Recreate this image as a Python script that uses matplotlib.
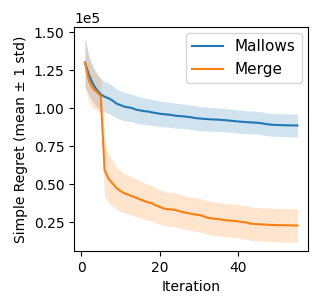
import numpy as np
import matplotlib
matplotlib.use("Agg")
import matplotlib.pyplot as plt

iterations = list(range(1, 56))

mallows_mean = [1.30, 1.22, 1.16, 1.12, 1.09, 1.075, 1.065, 1.05, 1.03, 1.02,
                1.01, 1.005, 1.0, 0.99, 0.985, 0.98, 0.978, 0.972, 0.968, 0.963,
                0.96, 0.958, 0.955, 0.95, 0.948, 0.946, 0.943, 0.94, 0.935, 0.932,
                0.93, 0.928, 0.926, 0.925, 0.924, 0.922, 0.92, 0.917, 0.915, 0.912,
                0.91, 0.908, 0.906, 0.905, 0.903, 0.90, 0.895, 0.892, 0.89, 0.889,
                0.888, 0.887, 0.887, 0.886, 0.886]
mallows_std = [0.16, 0.13, 0.12, 0.11, 0.105, 0.10, 0.10, 0.097, 0.095, 0.095,
               0.093, 0.092, 0.09, 0.09, 0.088, 0.087, 0.086, 0.085, 0.085, 0.084,
               0.083, 0.083, 0.082, 0.082, 0.081, 0.081, 0.08, 0.08, 0.08, 0.079,
               0.079, 0.078, 0.078, 0.078, 0.077, 0.077, 0.077, 0.076, 0.076, 0.076,
               0.076, 0.075, 0.075, 0.075, 0.075, 0.075, 0.075, 0.075, 0.075, 0.075,
               0.075, 0.075, 0.075, 0.075, 0.075]

merge_mean = [1.30, 1.18, 1.13, 1.105, 1.08, 0.59, 0.535, 0.505, 0.474, 0.455,
              0.44, 0.43, 0.42, 0.41, 0.40, 0.39, 0.38, 0.375, 0.36, 0.35,
              0.34, 0.335, 0.333, 0.33, 0.322, 0.315, 0.31, 0.305, 0.30, 0.297,
              0.29, 0.28, 0.275, 0.272, 0.27, 0.265, 0.262, 0.26, 0.258, 0.255,
              0.25, 0.248, 0.24, 0.238, 0.236, 0.235, 0.233, 0.232, 0.231, 0.23,
              0.23, 0.229, 0.229, 0.228, 0.228]
merge_std = [0.16, 0.14, 0.13, 0.12, 0.11, 0.17, 0.16, 0.15, 0.14, 0.135,
             0.13, 0.128, 0.126, 0.124, 0.122, 0.12, 0.118, 0.116, 0.115, 0.114,
             0.113, 0.112, 0.112, 0.111, 0.111, 0.11, 0.11, 0.11, 0.11, 0.11,
             0.11, 0.11, 0.11, 0.11, 0.11, 0.11, 0.11, 0.11, 0.11, 0.11,
             0.11, 0.11, 0.11, 0.11, 0.11, 0.11, 0.11, 0.11, 0.11, 0.11,
             0.11, 0.11, 0.11, 0.11, 0.11]

scale = 1e5
x = np.array(iterations)
mm = np.array(mallows_mean) * scale
ms = np.array(mallows_std) * scale
gm = np.array(merge_mean) * scale
gs = np.array(merge_std) * scale

fig = plt.figure(figsize=(3.19, 3.08), dpi=100)
ax = fig.add_axes([0.233, 0.185, 0.7325, 0.727])

ax.plot(x, mm, color="tab:blue", label="Mallows", lw=1.5)
ax.fill_between(x, mm - ms, mm + ms, color="tab:blue", alpha=0.2, lw=0)
ax.plot(x, gm, color="tab:orange", label="Merge", lw=1.5)
ax.fill_between(x, gm - gs, gm + gs, color="tab:orange", alpha=0.2, lw=0)

ax.set_xlabel("Iteration")
ax.set_ylabel("Simple Regret (mean ± 1 std)")
ax.set_ylim(0.06e5, 1.533e5)
ax.set_yticks([0.25e5, 0.5e5, 0.75e5, 1.0e5, 1.25e5, 1.5e5])
ax.ticklabel_format(style="sci", axis="y", scilimits=(0, 0))
ax.set_xticks([0, 20, 40])
ax.legend(loc="upper right", fontsize=11, borderaxespad=0.4)

fig.savefig("out.png", dpi=100)
